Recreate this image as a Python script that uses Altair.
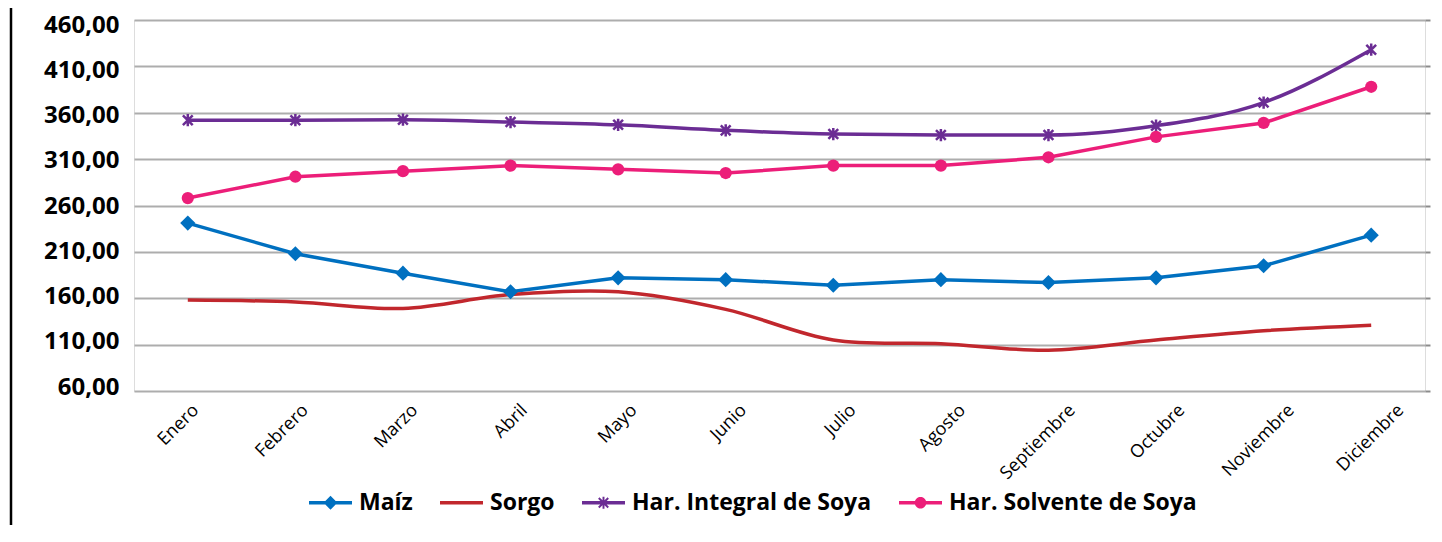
import math
import altair as alt
import pandas as pd

# ---------------- data ----------------
months = ["Enero", "Febrero", "Marzo", "Abril", "Mayo", "Junio", "Julio",
          "Agosto", "Septiembre", "Octubre", "Noviembre", "Diciembre"]
series_names = ["Maíz", "Sorgo", "Har. Integral de Soya", "Har. Solvente de Soya"]
maiz = [241, 208, 187, 167, 182, 180, 174, 180, 177, 182, 195, 228]
sorgo = [158, 156, 149, 164, 167, 148, 115, 111, 104, 115, 125, 131]
har_integral = [352, 352, 352.5, 350, 347, 341, 337, 336, 336, 346, 371, 428]
har_solvente = [268, 291, 297, 303, 299, 295, 303, 303, 312, 334, 349, 388]
y_ticks = [60, 110, 160, 210, 260, 310, 360, 410, 460]

values = {"Maíz": maiz, "Sorgo": sorgo,
          "Har. Integral de Soya": har_integral,
          "Har. Solvente de Soya": har_solvente}
rows = []
for s in series_names:
    for m, v in zip(months, values[s]):
        rows.append({"Mes": m, "Serie": s, "Valor": v})
df = pd.DataFrame(rows)

# ---------------- styles ----------------
colors = {"Maíz": "#0070C0", "Sorgo": "#C1272D",
          "Har. Integral de Soya": "#6B2D94", "Har. Solvente de Soya": "#EC1E79"}
interp = {"Maíz": "linear", "Sorgo": "catmull-rom",
          "Har. Integral de Soya": "monotone", "Har. Solvente de Soya": "linear"}
FONT = "Open Sans"
GRID = "#ADADAD"


def poly(pts):
    area = sum(pts[i][0] * pts[(i + 1) % len(pts)][1] - pts[(i + 1) % len(pts)][0] * pts[i][1]
               for i in range(len(pts)))
    if area < 0:
        pts = pts[::-1]
    return "M" + "L".join(f"{x:.3f},{y:.3f}" for x, y in pts) + "Z"


def bar(x1, y1, x2, y2, w):
    dx, dy = x2 - x1, y2 - y1
    L = math.hypot(dx, dy)
    px, py = -dy / L * w, dx / L * w
    return poly([(x1 + px, y1 + py), (x2 + px, y2 + py), (x2 - px, y2 - py), (x1 - px, y1 - py)])


line_sym = bar(-1, 0, 1, 0, 0.08)
diamond_sym = poly([(0, -0.32), (0.32, 0), (0, 0.32), (-0.32, 0)])
circle_sym = poly([(0.27 * math.cos(2 * math.pi * k / 28), 0.27 * math.sin(2 * math.pi * k / 28))
                   for k in range(28)])
star_sym = (bar(0, -0.28, 0, 0.28, 0.045) + bar(-0.22, -0.22, 0.22, 0.22, 0.045)
            + bar(-0.22, 0.22, 0.22, -0.22, 0.045))
legend_paths = [line_sym + diamond_sym, line_sym, line_sym + star_sym, line_sym + circle_sym]

star_marker = "M0,-1V1M-0.8,-0.8L0.8,0.8M-0.8,0.8L0.8,-0.8"

# the original spreads its rotated labels a little wider than the ticks
x_label_offset = {"condition": [{"test": f"datum.value === '{m}'", "value": round(1.5 + 1.96 * i, 1)}
                                for i, m in enumerate(months)], "value": 12}
# y labels drift from +5px (top) to -4px (bottom) around their gridlines
y_label_offset = {"condition": [{"test": f"datum.value === {v}", "value": round(-4 + 9 * k / 8, 1)}
                                for k, v in enumerate(y_ticks)], "value": 0}

x_enc = alt.X("Mes:N", sort=months, title=None,
              axis=alt.Axis(labelAngle=-45, labelAlign="right", labelBaseline="top",
                            labelOffset=x_label_offset, labelPadding=10, labelFontSize=18,
                            labelFontWeight=500, labelFont=FONT, labelColor="black",
                            ticks=False, domain=False, grid=False))
y_scale = alt.Scale(domain=[60, 460], nice=False, zero=False)
y_enc = alt.Y("Valor:Q", title=None, scale=y_scale,
              axis=alt.Axis(values=y_ticks,
                            labelExpr="replace(format(datum.value, '.2f'), '.', ',')",
                            labelFontSize=24, labelFontWeight="bold", labelFont=FONT,
                            labelColor="black", labelPadding=15, labelOffset=y_label_offset,
                            ticks=False, domain=False, grid=True, gridColor=GRID, gridWidth=2))
y_plain = alt.Y("Valor:Q", title=None, scale=y_scale, axis=None)
y_right = alt.Y("Valor:Q", title=None, scale=y_scale,
                axis=alt.Axis(orient="right", values=y_ticks, labels=False, ticks=True,
                              tickSize=5, tickWidth=2, tickColor="#8C8C8C", domain=False,
                              grid=False))

base = alt.Chart(df)
layers = []
for i, s in enumerate(series_names):
    layers.append(base.transform_filter(alt.datum.Serie == s)
                  .mark_line(color=colors[s], strokeWidth=3.5, interpolate=interp[s])
                  .encode(x=x_enc, y=y_enc if i == 0 else y_plain))

layers.append(base.transform_filter(alt.datum.Serie == "Maíz")
              .mark_point(shape="diamond", filled=True, size=230, opacity=1,
                          color=colors["Maíz"])
              .encode(x=x_enc, y=y_right))
layers.append(base.transform_filter(alt.datum.Serie == "Har. Integral de Soya")
              .mark_point(shape=star_marker, filled=False, size=150, strokeWidth=2.5,
                          opacity=1, color=colors["Har. Integral de Soya"])
              .encode(x=x_enc, y=y_plain))
layers.append(base.transform_filter(alt.datum.Serie == "Har. Solvente de Soya")
              .mark_point(shape="circle", filled=True, size=150, opacity=1,
                          color=colors["Har. Solvente de Soya"])
              .encode(x=x_enc, y=y_plain))

leg = alt.Legend(title=None, orient="none", legendX=175, legendY=461,
                 direction="horizontal", symbolSize=1849, symbolStrokeWidth=0,
                 symbolOpacity=1, labelFontSize=23, labelFontWeight="bold",
                 labelFont=FONT, labelColor="black", labelOffset=7, labelLimit=0,
                 columnPadding=27, padding=0)
layers.append(base.transform_filter(alt.datum.Mes == "Enero")
              .mark_point(filled=True, opacity=0)
              .encode(x=x_enc, y=y_plain,
                      color=alt.Color("Serie:N", scale=alt.Scale(domain=series_names,
                                      range=[colors[s] for s in series_names]), legend=leg),
                      shape=alt.Shape("Serie:N", scale=alt.Scale(domain=series_names,
                                      range=legend_paths), legend=leg)))

border = alt.Chart(pd.DataFrame({"k": [0]})).mark_rule(color="black", strokeWidth=2.5).encode(
    x=alt.value(-123), y=alt.value(-20), y2=alt.value(530))
layers.append(border)

chart = (alt.layer(*layers)
         .resolve_axis(y="independent")
         .properties(width=1291, height=371,
                     padding={"left": 126, "top": 12, "right": 8, "bottom": 134},
                     autosize=alt.AutoSizeParams(type="none"))
         .configure_view(stroke="#A6A6A6", strokeWidth=2)
         .configure(font=FONT, background="white"))

chart.save("out.html", embed_options={"renderer": "svg", "actions": False})
